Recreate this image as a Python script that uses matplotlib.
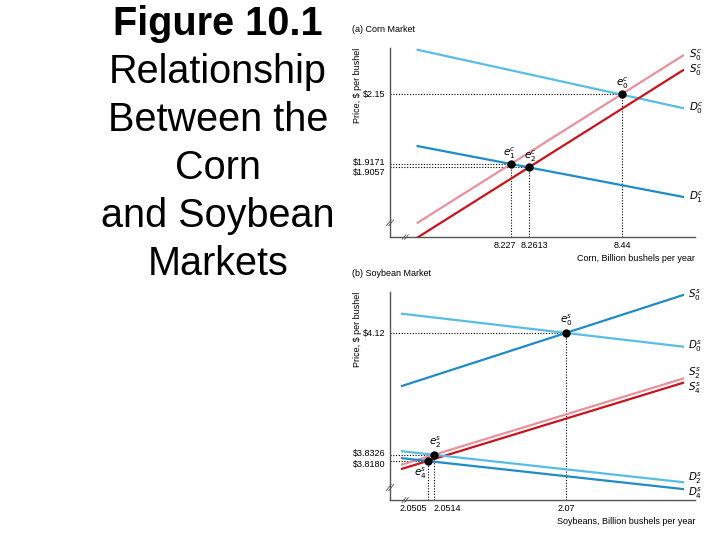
""" Figure 10.1: corn and soybean markets """
import matplotlib
matplotlib.use('Agg')
import matplotlib.pyplot as plt
import matplotlib.transforms as mtransforms

plt.rcParams['font.family'] = ['Liberation Sans', 'DejaVu Sans']

# title lines
title_lines = ['Figure 10.1', 'Relationship', 'Between the', 'Corn', 'and Soybean', 'Markets']

# corn market (a)
corn_x = [8.048, 8.557]
corn_D0 = [2.297, 2.103]
corn_D1 = [1.9765, 1.8075]
corn_S0 = [1.7214, 2.278]
corn_S1 = [1.6726, 2.229]
corn_eq_q = [8.227, 8.2613, 8.44]
corn_eq_p = [1.9171, 1.9057, 2.15]
corn_eq_names = [r'$e_1^c$', r'$e_2^c$', r'$e_0^c$']
corn_xticks = ['8.227', '8.2613', '8.44']
corn_yticks = ['$1.9171', '$1.9057', '$2.15']

# soybean market (b)
soy_x = [2.0469, 2.0865]
soy_S0 = [3.995, 4.2093]
soy_D0 = [4.1653, 4.0877]
soy_S2 = [3.8096, 4.0123]
soy_S4 = [3.7996, 4.0023]
soy_D2 = [3.8409, 3.768]
soy_D4 = [3.8246, 3.7518]
soy_eq_q = [2.0505, 2.0514, 2.07]
soy_eq_p = [3.8180, 3.8326, 4.12]
soy_eq_names = [r'$e_4^s$', r'$e_2^s$', r'$e_0^s$']
soy_xticks = ['2.0505', '2.0514', '2.07']
soy_yticks = ['$3.8180', '$3.8326', '$4.12']

LIGHT_BLUE = '#58bde6'
BLUE = '#1f8bc9'
PINK = '#e8909c'
DARK_RED = '#c8141c'

fig = plt.figure(figsize=(7.2, 5.4), dpi=100)

for i, line in enumerate(title_lines):
    fig.text(218 / 720, 1 - (35 + 48 * i) / 540, line, ha='center', va='baseline',
             fontsize=28.5, fontweight='bold' if i == 0 else 'normal')


def px_offset(dx, dy):
    return mtransforms.ScaledTranslation(dx / 100, -dy / 100, fig.dpi_scale_trans)


def draw_break(ax, yfrac):
    # small "//" marks on both axes
    for d in (-0.004, 0.004):
        ax.plot([-0.008 + d, 0.008 + d], [yfrac - 0.015, yfrac + 0.015], color='#555555',
                lw=0.6, transform=ax.transAxes, clip_on=False)
        ax.plot([0.05 + d - 0.006, 0.05 + d + 0.006], [-0.012, 0.012], color='#555555',
                lw=0.6, transform=ax.transAxes, clip_on=False)


def style_axes(ax, xlim, ylim):
    ax.set_xlim(*xlim)
    ax.set_ylim(*ylim)
    for side in ('top', 'right'):
        ax.spines[side].set_visible(False)
    for side in ('left', 'bottom'):
        ax.spines[side].set_color('#555555')
        ax.spines[side].set_linewidth(1.0)
    ax.tick_params(length=0, labelsize=6.5, pad=3)
    ax.patch.set_alpha(0)


def draw_market(ax, qs, ps, names, xlabels, ylabels, label_offsets, xoff, yoff):
    for q, p in zip(qs, ps):
        ax.plot([ax.get_xlim()[0], q], [p, p], ls=(0, (1, 1.5)), color='black', lw=0.8, zorder=1)
        ax.plot([q, q], [ax.get_ylim()[0], p], ls=(0, (1, 1.5)), color='black', lw=0.8, zorder=1)
    ax.plot(qs, ps, 'o', color='black', ms=5, zorder=5)
    for q, p, name, (dx, dy) in zip(qs, ps, names, label_offsets):
        ax.annotate(name, (q, p), xytext=(dx, dy), textcoords='offset points',
                    ha='center', va='center', fontsize=7.5)
    ax.set_xticks(qs)
    ax.set_xticklabels(xlabels)
    order = sorted(range(len(ps)), key=lambda i: ps[i])
    ax.set_yticks([ps[i] for i in order])
    ax.set_yticklabels([ylabels[i] for i in order])
    for lab, d in zip(ax.get_xticklabels(), xoff):
        lab.set_transform(lab.get_transform() + px_offset(d, 0))
    for lab, i in zip(ax.get_yticklabels(), order):
        lab.set_transform(lab.get_transform() + px_offset(0, yoff[i]))


# (a) corn
ax1 = fig.add_axes([390 / 720, 1 - 237 / 540, 305 / 720, 189 / 540])
style_axes(ax1, (7.995, 8.58), (1.674, 2.303))
ax1.plot(corn_x, corn_D0, color=LIGHT_BLUE, lw=1.6)
ax1.plot(corn_x, corn_D1, color=BLUE, lw=1.6)
ax1.plot(corn_x, corn_S0, color=PINK, lw=1.6)
ax1.plot(corn_x, corn_S1, color=DARK_RED, lw=1.6)
for y, name in zip([corn_S0[1], corn_S1[1], corn_D0[1], corn_D1[1]],
                   [r'$S_0^c$', r'$S_0^c$', r'$D_0^c$', r'$D_1^c$']):
    ax1.annotate(name, (corn_x[1], y), xytext=(4, 0), textcoords='offset points',
                 ha='left', va='center', fontsize=7.5)
draw_market(ax1, corn_eq_q, corn_eq_p, corn_eq_names, corn_xticks, corn_yticks,
            [(-1, 8), (1, 8), (0, 8)], [-6, 6, 0], [-2, 4, 0])
draw_break(ax1, 0.075)
fig.text(352 / 720, 1 - 30 / 540, '(a) Corn Market', fontsize=6.5, va='center')
fig.text(357 / 720, 1 - 48 / 540, 'Price, $ per bushel', rotation=90, fontsize=6.5,
         ha='center', va='top')
fig.text(695 / 720, 1 - 258 / 540, 'Corn, Billion bushels per year', fontsize=6.5,
         ha='right', va='center')

# (b) soybean
ax2 = fig.add_axes([390 / 720, 1 - 500 / 540, 305 / 720, 208 / 540])
style_axes(ax2, (2.0452, 2.0882), (3.726, 4.2166))
ax2.plot(soy_x, soy_S0, color=BLUE, lw=1.6)
ax2.plot(soy_x, soy_D0, color=LIGHT_BLUE, lw=1.6)
ax2.plot(soy_x, soy_S2, color=PINK, lw=1.6)
ax2.plot(soy_x, soy_S4, color=DARK_RED, lw=1.6)
ax2.plot(soy_x, soy_D2, color=LIGHT_BLUE, lw=1.6)
ax2.plot(soy_x, soy_D4, color=BLUE, lw=1.6)
for y, name, dy in zip([soy_S0[1], soy_D0[1], soy_S2[1], soy_S4[1], soy_D2[1], soy_D4[1]],
                       [r'$S_0^s$', r'$D_0^s$', r'$S_2^s$', r'$S_4^s$', r'$D_2^s$', r'$D_4^s$'],
                       [0, 0, 4, -4, 3, -3]):
    ax2.annotate(name, (soy_x[1], y), xytext=(4, dy), textcoords='offset points',
                 ha='left', va='center', fontsize=7.5)
draw_market(ax2, soy_eq_q, soy_eq_p, soy_eq_names, soy_xticks, soy_yticks,
            [(-5, -9), (1, 9), (0, 9)], [-14, 13, 0], [3, -2, 0])
draw_break(ax2, 0.06)
fig.text(352 / 720, 1 - 273 / 540, '(b) Soybean Market', fontsize=6.5, va='center')
fig.text(357 / 720, 1 - 292 / 540, 'Price, $ per bushel', rotation=90, fontsize=6.5,
         ha='center', va='top')
fig.text(695 / 720, 1 - 522 / 540, 'Soybeans, Billion bushels per year', fontsize=6.5,
         ha='right', va='center')

fig.savefig('out.png', dpi=100)
